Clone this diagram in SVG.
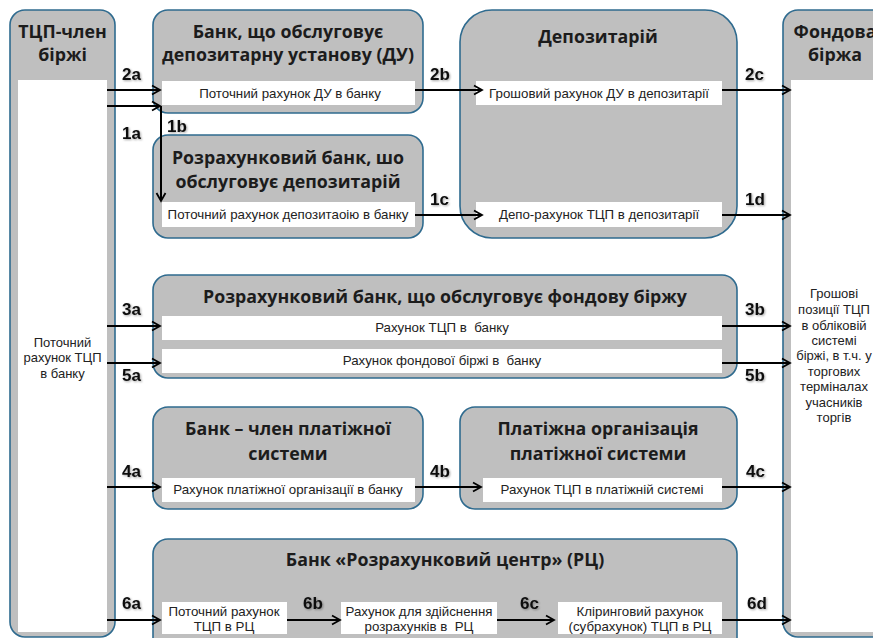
<svg xmlns="http://www.w3.org/2000/svg" width="873" height="638" viewBox="0 0 873 638">
<defs>
<marker id="ah" markerWidth="12" markerHeight="12" viewBox="0 0 12 12" refX="10" refY="6" orient="auto" markerUnits="userSpaceOnUse">
<path d="M2,1.5 L10,6 L2,10.5" fill="none" stroke="#000" stroke-width="1.8"/>
</marker>
<filter id="sh" x="-30%" y="-30%" width="160%" height="160%">
<feDropShadow dx="1" dy="1" stdDeviation="1" flood-color="#000" flood-opacity="0.35"/>
</filter>
</defs>
<style>
.box{fill:#bfbfbf;stroke:#2f6b8f;stroke-width:1.6}
.wb{fill:#fff}
.t{font-family:"Open Sans","DejaVu Sans",sans-serif;font-weight:bold;font-size:17.8px;fill:#1c1c1c;text-anchor:middle}
.s{font-family:"Liberation Sans",Arial,sans-serif;font-size:13.3px;fill:#222;text-anchor:middle;white-space:pre}
.side{font-size:13px}
.l{font-family:"Liberation Sans",Arial,sans-serif;font-weight:bold;font-size:17px;fill:#111;filter:url(#sh)}
.c{stroke:#000;stroke-width:2;fill:none;marker-end:url(#ah)}
</style>
<rect width="873" height="638" fill="#fff"/>

<g id="tcp">
<rect class="box" x="10" y="10" width="105" height="627" rx="15"/>
<rect class="wb" x="18" y="80" width="89" height="552"/>
<text class="t" x="62.5" y="38">ТЦП-член</text>
<text class="t" x="62.5" y="61">біржі</text>
<text class="s side" x="62.5" y="347">Поточний</text>
<text class="s side" x="62.5" y="362">рахунок ТЦП</text>
<text class="s side" x="62.5" y="378">в банку</text>
</g>

<g id="fb">
<rect class="box" x="783" y="10" width="105" height="627" rx="15"/>
<rect class="wb" x="791" y="80" width="89" height="552"/>
<text class="t" x="835" y="38">Фондова</text>
<text class="t" x="835" y="61">біржа</text>
<text class="s side" x="834" y="298">Грошові</text>
<text class="s side" x="834" y="314">позиції ТЦП</text>
<text class="s side" x="834" y="330">в обліковій</text>
<text class="s side" x="834" y="345">системі</text>
<text class="s side" x="834" y="360">біржі, в т.ч. у</text>
<text class="s side" x="834" y="376">торгових</text>
<text class="s side" x="834" y="391">терміналах</text>
<text class="s side" x="834" y="407">учасників</text>
<text class="s side" x="834" y="422">торгів</text>
</g>

<g id="bank-du">
<rect class="box" x="153" y="10" width="270" height="103" rx="15"/>
<rect class="wb" x="162" y="81" width="253" height="24"/>
<text class="t" x="288" y="38">Банк, що обслуговує</text>
<text class="t" x="288" y="61">депозитарну установу (ДУ)</text>
<text class="s" x="290" y="98">Поточний рахунок ДУ в банку</text>
</g>

<g id="bank-dep">
<rect class="box" x="153" y="135" width="270" height="103" rx="15"/>
<rect class="wb" x="162" y="202" width="253" height="25"/>
<text class="t" x="288" y="164">Розрахунковий банк, шо</text>
<text class="t" x="288" y="188">обслуговує депозитарій</text>
<text class="s" x="288" y="219">Поточний рахунок депозитаоію в банку</text>
</g>

<g id="depozytarii">
<rect class="box" x="460" y="10" width="277" height="228" rx="32"/>
<rect class="wb" x="476" y="81" width="246" height="24"/>
<rect class="wb" x="476" y="202" width="246" height="25"/>
<text class="t" x="598" y="43">Депозитарій</text>
<text class="s" x="599" y="98">Грошовий рахунок ДУ в депозитарії</text>
<text class="s" x="599" y="219">Депо-рахунок ТЦП в депозитарії</text>
</g>

<g id="bank-fb">
<rect class="box" x="153" y="275" width="584" height="103" rx="15"/>
<rect class="wb" x="162" y="316" width="560" height="24"/>
<rect class="wb" x="162" y="349" width="560" height="24"/>
<text class="t" x="445" y="303">Розрахунковий банк, що обслуговує фондову біржу</text>
<text class="s" x="442" y="332">Рахунок ТЦП в  банку</text>
<text class="s" x="442" y="365">Рахунок фондової біржі в  банку</text>
</g>

<g id="bank-ps">
<rect class="box" x="153" y="407" width="270" height="102" rx="15"/>
<rect class="wb" x="162" y="478" width="253" height="24"/>
<text class="t" x="288" y="435">Банк – член платіжної</text>
<text class="t" x="288" y="460">системи</text>
<text class="s" x="288" y="494">Рахунок платіжної організації в банку</text>
</g>

<g id="org-ps">
<rect class="box" x="460" y="407" width="277" height="102" rx="15"/>
<rect class="wb" x="483" y="478" width="239" height="24"/>
<text class="t" x="598" y="435">Платіжна організація</text>
<text class="t" x="598" y="460">платіжної системи</text>
<text class="s" x="602" y="494">Рахунок ТЦП в платіжній системі</text>
</g>

<g id="rc">
<rect class="box" x="153" y="539" width="584" height="115" rx="15"/>
<rect class="wb" x="162" y="602" width="125" height="32"/>
<rect class="wb" x="341" y="602" width="156" height="32"/>
<rect class="wb" x="558" y="602" width="164" height="32"/>
<text class="t" x="445" y="566">Банк «Розрахунковий центр» (РЦ)</text>
<text class="s" x="224" y="616">Поточний рахунок</text>
<text class="s" x="224" y="631">ТЦП в РЦ</text>
<text class="s" x="419" y="616">Рахунок для здійснення</text>
<text class="s" x="419" y="631">розрахунків в  РЦ</text>
<text class="s" x="640" y="616">Кліринговий рахунок</text>
<text class="s" x="640" y="631">(субрахунок) ТЦП в РЦ</text>
</g>

<g id="connectors">
<line class="c" x1="107" y1="90" x2="160" y2="90"/>
<line class="c" x1="107" y1="106" x2="160" y2="106"/>
<line class="c" x1="161" y1="106" x2="161" y2="201"/>
<line class="c" x1="415" y1="90" x2="482" y2="90"/>
<line class="c" x1="722" y1="90" x2="790" y2="90"/>
<line class="c" x1="415" y1="215" x2="482" y2="215"/>
<line class="c" x1="722" y1="215" x2="790" y2="215"/>
<line class="c" x1="107" y1="326" x2="160" y2="326"/>
<line class="c" x1="107" y1="363" x2="160" y2="363"/>
<line class="c" x1="722" y1="326" x2="790" y2="326"/>
<line class="c" x1="722" y1="363" x2="790" y2="363"/>
<line class="c" x1="107" y1="487" x2="160" y2="487"/>
<line class="c" x1="415" y1="487" x2="481" y2="487"/>
<line class="c" x1="722" y1="487" x2="790" y2="487"/>
<line class="c" x1="107" y1="620" x2="160" y2="620"/>
<line class="c" x1="287" y1="620" x2="340" y2="620"/>
<line class="c" x1="497" y1="620" x2="554" y2="620"/>
<line class="c" x1="722" y1="620" x2="790" y2="620"/>
<g id="labels">
<text class="l" x="122" y="80">2a</text>
<text class="l" x="122" y="139">1a</text>
<text class="l" x="167" y="132">1b</text>
<text class="l" x="430" y="80">2b</text>
<text class="l" x="430" y="205">1c</text>
<text class="l" x="745" y="80">2c</text>
<text class="l" x="745" y="205">1d</text>
<text class="l" x="122" y="315">3a</text>
<text class="l" x="122" y="381">5a</text>
<text class="l" x="745" y="315">3b</text>
<text class="l" x="745" y="381">5b</text>
<text class="l" x="122" y="477">4a</text>
<text class="l" x="430" y="477">4b</text>
<text class="l" x="746" y="477">4c</text>
<text class="l" x="122" y="609">6a</text>
<text class="l" x="303" y="609">6b</text>
<text class="l" x="520" y="609">6c</text>
<text class="l" x="747" y="609">6d</text>
</g>
</g>
</svg>
